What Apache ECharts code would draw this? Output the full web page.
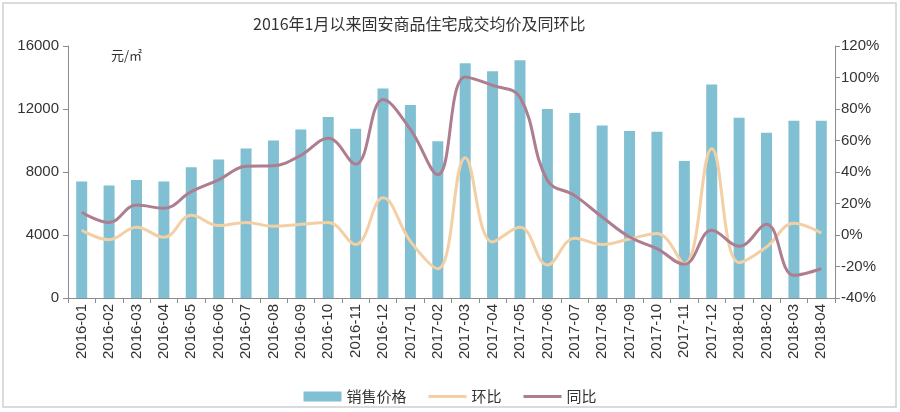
<!DOCTYPE html>
<html>
<head>
<meta charset="utf-8">
<script src="https://cdn.jsdelivr.net/npm/echarts@6/dist/echarts.min.js"></script>
<style>
html,body{margin:0;padding:0;background:#fff;}
#c{width:900px;height:412px;}
</style>
</head>
<body>
<div id="c"></div>
<script>
var titleText = '2016年1月以来固安商品住宅成交均价及同环比';
var unitText = '元/㎡';
var categories = ['2016-01','2016-02','2016-03','2016-04','2016-05','2016-06','2016-07','2016-08','2016-09','2016-10','2016-11','2016-12',
  '2017-01','2017-02','2017-03','2017-04','2017-05','2017-06','2017-07','2017-08','2017-09','2017-10','2017-11','2017-12',
  '2018-01','2018-02','2018-03','2018-04'];
var priceValues = [7400,7150,7500,7400,8300,8800,9500,10000,10700,11500,10750,13300,
  12250,9950,14900,14400,15100,12000,11750,10950,10600,10550,8700,13550,
  11450,10500,11250,11250];
var momValues = [3,-3,5,-1.5,12.5,6,8,5.5,6.8,8,-6,23.7,
  -4,-21.4,49,-4.4,5,-19,-2,-6,-2.5,1,-18.2,54.8,
  -17.5,-7.6,7.5,1.3];
var yoyValues = [14.5,8,19,17,27.5,35,43.6,44,50.6,61.5,45,86,
  67,38.3,100.3,95,87.5,34.7,25,11.4,-1.3,-8.7,-18.6,3,
  -7.2,6.8,-25.6,-21.4];
var leftTicks = {min:0, max:16000, interval:4000};
var rightTicks = {min:-40, max:120, interval:20};
var seriesNames = ['销售价格','环比','同比'];

var chart = echarts.init(document.getElementById('c'), null, {renderer:'canvas'});
var axisFont = 'Liberation Sans, Arial, sans-serif';
var cjkFont = '"Noto Sans CJK SC", sans-serif';
var axisColor = '#8c8c8c';
var lineIcon = 'path://M0,0L40,0L40,3L0,3Z';
chart.setOption({
  animation:false,
  backgroundColor:'#fff',
  title:{text:titleText, left:248, top:11, textStyle:{fontFamily:cjkFont, fontSize:16, fontWeight:'normal', color:'#333'}},
  graphic:[
    {type:'rect', shape:{x:3,y:3,width:893,height:404}, style:{fill:'none', stroke:'#d0d0d0', lineWidth:1.5}, silent:true},
    {type:'text', left:111, top:49, style:{text:unitText, font:'13px "Noto Sans CJK SC", sans-serif', fill:'#333'}}
  ],
  legend:{
    data:[{name:seriesNames[0], icon:'rect'}, {name:seriesNames[1], icon:lineIcon}, {name:seriesNames[2], icon:lineIcon}],
    left:'center', top:384, itemWidth:38, itemHeight:10, itemGap:22, symbolKeepAspect:true,
    textStyle:{fontFamily:cjkFont, fontSize:15, color:'#333'}
  },
  grid:{left:68, right:65, top:46, bottom:114},
  xAxis:{
    type:'category', data:categories, boundaryGap:true,
    axisLine:{lineStyle:{color:axisColor, width:1}},
    axisTick:{show:true, alignWithLabel:false, length:5, lineStyle:{color:axisColor}},
    axisLabel:{rotate:90, interval:0, fontFamily:axisFont, fontSize:15, color:'#333', margin:6}
  },
  yAxis:[
    {type:'value', min:leftTicks.min, max:leftTicks.max, interval:leftTicks.interval,
     axisLine:{show:true, lineStyle:{color:axisColor}}, axisTick:{show:true, length:5, lineStyle:{color:axisColor}},
     splitLine:{show:false},
     axisLabel:{fontFamily:axisFont, fontSize:15, color:'#333', margin:9, formatter:function(v){return String(v);}}},
    {type:'value', min:rightTicks.min, max:rightTicks.max, interval:rightTicks.interval,
     axisLine:{show:true, lineStyle:{color:axisColor}}, axisTick:{show:true, length:5, lineStyle:{color:axisColor}},
     splitLine:{show:false},
     axisLabel:{fontFamily:axisFont, fontSize:15, color:'#333', margin:6, formatter:function(v){return v + '%';}}}
  ],
  series:[
    {name:seriesNames[0], type:'bar', yAxisIndex:0, data:priceValues, barWidth:11,
     itemStyle:{color:'#80c0d2'}},
    {name:seriesNames[1], type:'line', yAxisIndex:1, data:momValues, smooth:0.4, symbol:'none',
     lineStyle:{color:'#f3cfa6', width:3}, itemStyle:{color:'#f3cfa6'}},
    {name:seriesNames[2], type:'line', yAxisIndex:1, data:yoyValues, smooth:0.4, symbol:'none',
     lineStyle:{color:'#ae7d90', width:3}, itemStyle:{color:'#ae7d90'}}
  ]
});
</script>
</body>
</html>
